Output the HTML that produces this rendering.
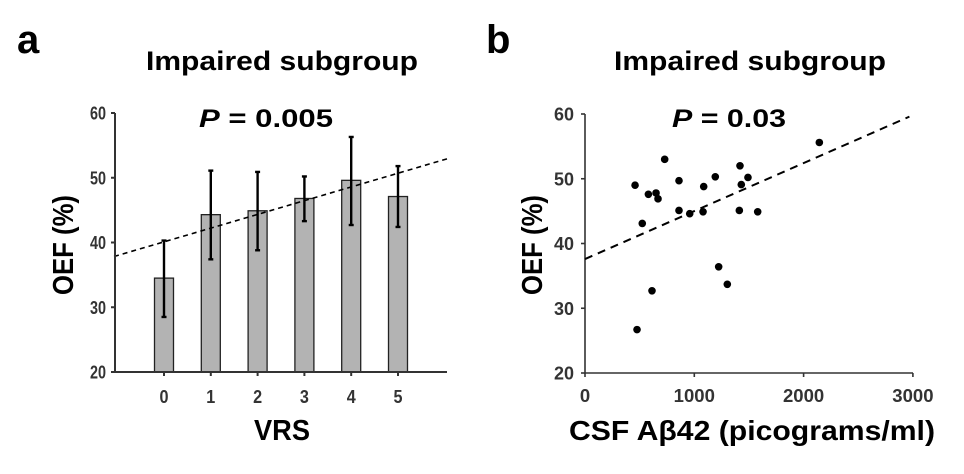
<!DOCTYPE html>
<html><head><meta charset="utf-8"><style>
html,body{margin:0;padding:0;background:#fff;}
svg{display:block;font-family:"Liberation Sans",sans-serif;}
.tick{font-weight:bold;fill:#333;}
.big{font-weight:bold;fill:#000;}
</style></head><body>
<svg id="fig" width="964" height="474" viewBox="0 0 964 474">
  <text x="17" y="53" class="big" font-size="40">a</text>
  <text x="282" y="70" class="big" font-size="27" text-anchor="middle" textLength="272" lengthAdjust="spacingAndGlyphs">Impaired subgroup</text>
  <text x="266" y="127" class="big" font-size="25" text-anchor="middle" textLength="134" lengthAdjust="spacingAndGlyphs"><tspan font-style="italic">P</tspan> = 0.005</text>
  <text transform="translate(73,245) rotate(-90)" class="big" font-size="29" text-anchor="middle" textLength="100" lengthAdjust="spacingAndGlyphs">OEF (%)</text>
  <text x="282" y="440" class="big" font-size="29" text-anchor="middle" textLength="56" lengthAdjust="spacingAndGlyphs">VRS</text>
  <g id="chartA"></g>

  <text x="486" y="53" class="big" font-size="40">b</text>
  <text x="750" y="70" class="big" font-size="27" text-anchor="middle" textLength="272" lengthAdjust="spacingAndGlyphs">Impaired subgroup</text>
  <text x="729" y="127" class="big" font-size="25" text-anchor="middle" textLength="114" lengthAdjust="spacingAndGlyphs"><tspan font-style="italic">P</tspan> = 0.03</text>
  <text transform="translate(542,245) rotate(-90)" class="big" font-size="29" text-anchor="middle" textLength="100" lengthAdjust="spacingAndGlyphs">OEF (%)</text>
  <text x="752" y="440" class="big" font-size="28" text-anchor="middle" textLength="366" lengthAdjust="spacingAndGlyphs">CSF Aβ42 (picograms/ml)</text>
  <g id="chartB"></g>
</svg>
<script>
const categories = [0, 1, 2, 3, 4, 5];
const barMeans = [34.5, 44.3, 44.9, 46.8, 49.6, 47.1];
const errUpper = [40.3, 51.1, 50.9, 50.2, 56.3, 51.8];
const errLower = [28.5, 37.4, 38.8, 43.3, 42.7, 42.4];
const yTicks = [20, 30, 40, 50, 60];
const trendA = [40.1, 2.12]; // intercept, slope

const csfX = [458, 524, 580, 650, 668, 729, 613, 476, 860, 860, 958, 1086, 1080, 1192, 1223, 1302, 1418, 1430, 1491, 1412, 1580, 2144];
const oefY = [49.0, 43.1, 47.6, 47.8, 46.9, 53.0, 32.7, 26.7, 49.7, 45.1, 44.6, 48.8, 44.9, 50.3, 36.4, 33.7, 52.0, 49.1, 50.2, 45.1, 44.9, 55.6];
const xTicksB = [0, 1000, 2000, 3000];
const trendB = [37.6, 0.00741];

const NS = "http://www.w3.org/2000/svg";
function mk(parent, tag, attrs, text) {
  const e = document.createElementNS(NS, tag);
  for (const k in attrs) e.setAttribute(k, attrs[k]);
  if (text !== undefined) e.textContent = text;
  parent.appendChild(e);
  return e;
}
const yA = v => 372 - (v - 20) * 6.475;
const xA = c => 164 + c * 46.8;
const gA = document.getElementById("chartA");
categories.forEach((c, i) => {
  const b = mk(gA, "rect", {x: xA(c) - 9.5, y: yA(barMeans[i]), width: 19, height: yA(20) - yA(barMeans[i]), fill: "#b3b3b3", stroke: "#222", "stroke-width": 1.3});
  
  
});
const tA = mk(gA, "line", {x1: 114, y1: yA(trendA[0] + trendA[1] * ((114 - 164) / 46.8)), x2: 447, y2: yA(trendA[0] + trendA[1] * ((447 - 164) / 46.8)), stroke: "#000", "stroke-width": 1.6, "stroke-dasharray": "5,4"});


categories.forEach((c, i) => {
  const g = mk(gA, "g", {stroke: "#000", "stroke-width": 2.4});
  
  
  mk(g, "line", {x1: xA(c), x2: xA(c), y1: yA(errUpper[i]), y2: yA(errLower[i])});
  mk(g, "line", {x1: xA(c) - 2.5, x2: xA(c) + 2.5, y1: yA(errUpper[i]), y2: yA(errUpper[i])});
  mk(g, "line", {x1: xA(c) - 2.5, x2: xA(c) + 2.5, y1: yA(errLower[i]), y2: yA(errLower[i])});
});
const axA = mk(gA, "path", {d: "M115 " + yA(60) + " V" + yA(20) + " H447", fill: "none", stroke: "#333", "stroke-width": 2});


yTicks.forEach(t => {
  mk(gA, "line", {x1: 111, x2: 115, y1: yA(t), y2: yA(t), stroke: "#333", "stroke-width": 2});
  const l = mk(gA, "text", {x: 106, y: yA(t) + 6.5, class: "tick", "font-size": 18, textLength: 16, lengthAdjust: "spacingAndGlyphs", "text-anchor": "end"}, t);
  
  
});
categories.forEach(c => {
  mk(gA, "line", {x1: xA(c), x2: xA(c), y1: yA(20), y2: yA(20) + 4, stroke: "#333", "stroke-width": 2});
  const l = mk(gA, "text", {x: xA(c), y: 403, class: "tick", "font-size": 18, textLength: 9, lengthAdjust: "spacingAndGlyphs", "text-anchor": "middle"}, c);
  
  
});

const yB = v => 373 - (v - 20) * 6.475;
const xB = v => 585 + v * 0.1093;
const gB = document.getElementById("chartB");
const axB = mk(gB, "path", {d: "M585 " + yB(60) + " V" + yB(20) + " H913", fill: "none", stroke: "#333", "stroke-width": 1.6});


yTicks.forEach(t => {
  mk(gB, "line", {x1: 581, x2: 585, y1: yB(t), y2: yB(t), stroke: "#333", "stroke-width": 1.6});
  const l = mk(gB, "text", {x: 574, y: yB(t) + 6.5, class: "tick", "font-size": 18, textLength: 20, lengthAdjust: "spacingAndGlyphs", "text-anchor": "end"}, t);
  
  
});
xTicksB.forEach(t => {
  mk(gB, "line", {x1: xB(t), x2: xB(t), y1: yB(20), y2: yB(20) + 4, stroke: "#333", "stroke-width": 1.6});
  const s = String(t);
  const l = mk(gB, "text", {x: xB(t), y: 402, class: "tick", "font-size": 18, textLength: s.length * 10.3, lengthAdjust: "spacingAndGlyphs", "text-anchor": "middle"}, t);
  
  
});
const tB = mk(gB, "line", {x1: xB(0), y1: yB(trendB[0]), x2: xB(2968), y2: yB(trendB[0] + trendB[1] * 2968), stroke: "#000", "stroke-width": 2, "stroke-dasharray": "8,6"});


csfX.forEach((x, i) => {
  const p = mk(gB, "circle", {cx: xB(x), cy: yB(oefY[i]), r: 3.8, fill: "#000"});
  
  
});
</script>
</body></html>
